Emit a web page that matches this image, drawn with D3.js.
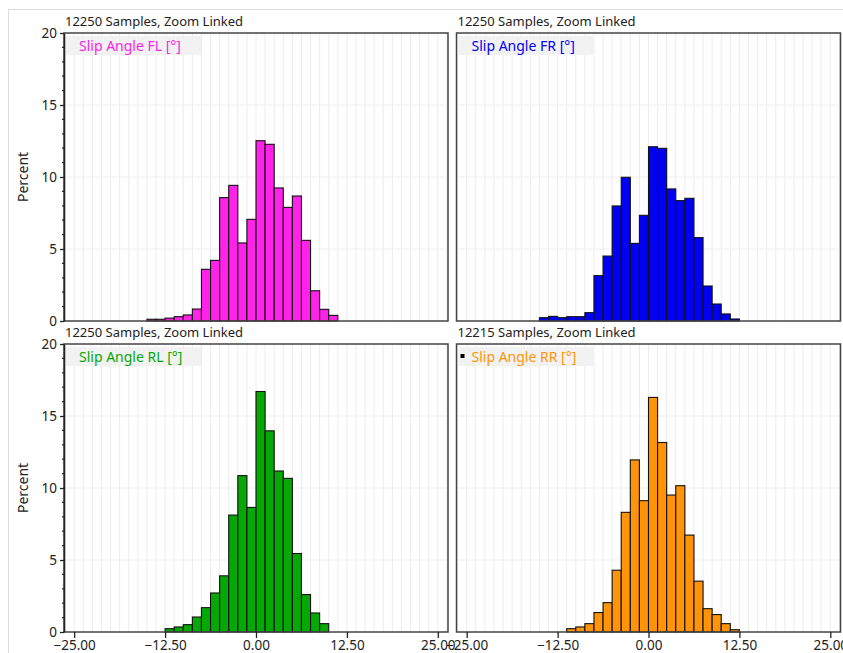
<!DOCTYPE html>
<html>
<head>
<meta charset="utf-8">
<script src="https://cdn.jsdelivr.net/npm/d3@7"></script>
<style>
  body { margin: 0; background: #fff; font-family: "Noto Sans", Verdana, sans-serif; }
  svg text { fill: #222; }
</style>
</head>
<body>
<div id="chart"></div>
<script>
// bin width is the same for all four channels
const binWidth = 1.25;

// left edge of the first bin of each channel
const flFirstBin = -15;
const frFirstBin = -15;
const rlFirstBin = -12.5;
const rrFirstBin = -11.25;

// percent of samples per bin
const flValues = [0.12, 0.12, 0.2, 0.3, 0.42, 0.83, 3.59, 4.21, 8.57, 9.42, 5.42, 7.06, 12.52, 12.27, 9.24, 7.89, 8.68, 5.6, 2.1, 0.81, 0.39];
const frValues = [0.23, 0.32, 0.23, 0.3, 0.3, 0.58, 3.15, 4.51, 7.99, 9.98, 5.39, 7.34, 12.1, 11.99, 9.17, 8.36, 8.52, 5.79, 2.43, 1.18, 0.49, 0.14];
const rlValues = [0.23, 0.35, 0.51, 1.04, 1.69, 2.71, 3.9, 8.12, 10.86, 8.65, 16.7, 13.97, 11.18, 10.67, 5.45, 2.6, 1.32, 0.58];
const rrValues = [0.23, 0.35, 0.58, 1.35, 2.04, 4.29, 8.31, 11.95, 9.12, 16.29, 13.16, 9.51, 10.16, 6.73, 3.53, 1.62, 1.21, 0.58, 0.16];

const channelNames = ["Slip Angle FL [°]", "Slip Angle FR [°]", "Slip Angle RL [°]", "Slip Angle RR [°]"];
const sampleCounts = [12250, 12250, 12250, 12215];
const channelColors = ["#ff22e8", "#0000f5", "#06a806", "#ff9408"];

const xTicks = [-25, -12.5, 0, 12.5, 25];
const yTicks = [0, 5, 10, 15, 20];

const toBins = (first, values) => values.map((v, i) => ({ x0: first + i * binWidth, x1: first + (i + 1) * binWidth, value: v }));

const svg = d3.select("#chart").append("svg")
  .attr("width", 843)
  .attr("height", 653);

// window frame of the tool
svg.append("line").attr("x1", 8).attr("x2", 843).attr("y1", 9.5).attr("y2", 9.5).attr("stroke", "#dcdcdc");
svg.append("line").attr("x1", 8.5).attr("x2", 8.5).attr("y1", 9).attr("y2", 653).attr("stroke", "#dcdcdc");

class Histogram {

  constructor(_config, _data) {
    this.config = {
      left: _config.left,
      top: _config.top,
      width: _config.width || 384,
      height: _config.height || 288,
      color: _config.color,
      name: _config.name,
      samples: _config.samples,
      showY: _config.showY,
      showX: _config.showX,
      marker: _config.marker || false
    };
    this.data = _data;
    this.initVis();
  }

  initVis() {
    let vis = this;
    const c = vis.config;

    vis.g = svg.append("g").attr("transform", `translate(${c.left},${c.top})`);

    vis.x = d3.scaleLinear().domain([-26.4, 26.4]).range([0, c.width]);
    vis.y = d3.scaleLinear().domain([0, 20]).range([c.height, 0]);

    // title above the plot
    vis.g.append("text")
      .attr("x", 1)
      .attr("y", -7)
      .attr("font-size", "13px")
      .text(`${c.samples} Samples, Zoom Linked`);

    // light grid: vertical every bin, horizontal every 5 %
    const gridX = d3.range(-21, 22).map(i => i * binWidth);
    vis.g.append("g").selectAll("line")
      .data(gridX)
      .join("line")
        .attr("x1", d => vis.x(d)).attr("x2", d => vis.x(d))
        .attr("y1", 0).attr("y2", c.height)
        .attr("stroke", "#ececec");
    vis.g.append("g").selectAll("line")
      .data(yTicks.slice(1, -1))
      .join("line")
        .attr("x1", 0).attr("x2", c.width)
        .attr("y1", d => vis.y(d)).attr("y2", d => vis.y(d))
        .attr("stroke", "#ececec");

    // legend box
    vis.g.append("rect")
      .attr("x", 2).attr("y", 3)
      .attr("width", 135).attr("height", 19)
      .attr("fill", "#f2f2f2");
    if (c.marker) {
      vis.g.append("rect")
        .attr("x", 4).attr("y", 10)
        .attr("width", 4).attr("height", 4)
        .attr("fill", "#000");
    }
    vis.g.append("text")
      .attr("x", 15).attr("y", 17.5)
      .attr("font-size", "14px")
      .style("fill", c.color)
      .text(c.name);

    vis.renderVis();
  }

  renderVis() {
    let vis = this;
    const c = vis.config;

    vis.g.append("g").selectAll("rect")
      .data(vis.data)
      .join("rect")
        .attr("x", d => vis.x(d.x0))
        .attr("y", d => vis.y(d.value))
        .attr("width", d => vis.x(d.x1) - vis.x(d.x0))
        .attr("height", d => vis.y(0) - vis.y(d.value))
        .attr("fill", c.color)
        .attr("stroke", "#111")
        .attr("stroke-width", 1.1);

    // plot frame
    vis.g.append("rect")
      .attr("width", c.width).attr("height", c.height)
      .attr("fill", "none")
      .attr("stroke", "#444")
      .attr("stroke-width", 1.5);

    if (c.showY) {
      const yAxis = vis.g.append("g")
        .call(d3.axisLeft(vis.y).tickValues(yTicks).tickSize(4).tickSizeOuter(0).tickPadding(3));
      yAxis.select(".domain").attr("stroke", "#222").attr("stroke-width", 1.5);
      yAxis.selectAll("text").attr("font-size", "13.5px").style("fill", "#222").attr("font-family", "Noto Sans");
      yAxis.selectAll("line").attr("stroke", "#222").attr("stroke-width", 1.3);
      // minor ticks every 1 %
      vis.g.append("g").selectAll("line")
        .data(d3.range(1, 20).filter(d => d % 5 !== 0))
        .join("line")
          .attr("x1", -2).attr("x2", 0)
          .attr("y1", d => vis.y(d)).attr("y2", d => vis.y(d))
          .attr("stroke", "#222").attr("stroke-width", 1.3);

      vis.g.append("text")
        .attr("transform", `translate(-36,${c.height / 2}) rotate(-90)`)
        .attr("text-anchor", "middle")
        .attr("font-size", "14px")
        .text("Percent");
    }

    if (c.showX) {
      const xAxis = vis.g.append("g")
        .attr("transform", `translate(0,${c.height})`)
        .call(d3.axisBottom(vis.x).tickValues(xTicks).tickFormat(d3.format(".2f")).tickSize(6).tickSizeOuter(0).tickPadding(2));
      xAxis.select(".domain").remove();
      xAxis.selectAll("text").attr("font-size", "13.5px").style("fill", "#222").attr("font-family", "Noto Sans");
      xAxis.selectAll("line").attr("stroke", "#222").attr("stroke-width", 1.3);
    }
  }
}

const panels = [
  { left: 64, top: 33, first: flFirstBin, values: flValues, showY: true, showX: false },
  { left: 456.5, top: 33, first: frFirstBin, values: frValues, showY: false, showX: false },
  { left: 64, top: 344, first: rlFirstBin, values: rlValues, showY: true, showX: true },
  { left: 456.5, top: 344, first: rrFirstBin, values: rrValues, showY: false, showX: true, marker: true }
];

panels.forEach((p, i) => {
  new Histogram({
    left: p.left,
    top: p.top,
    color: channelColors[i],
    name: channelNames[i],
    samples: sampleCounts[i],
    showY: p.showY,
    showX: p.showX,
    marker: p.marker
  }, toBins(p.first, p.values));
});
</script>
</body>
</html>
